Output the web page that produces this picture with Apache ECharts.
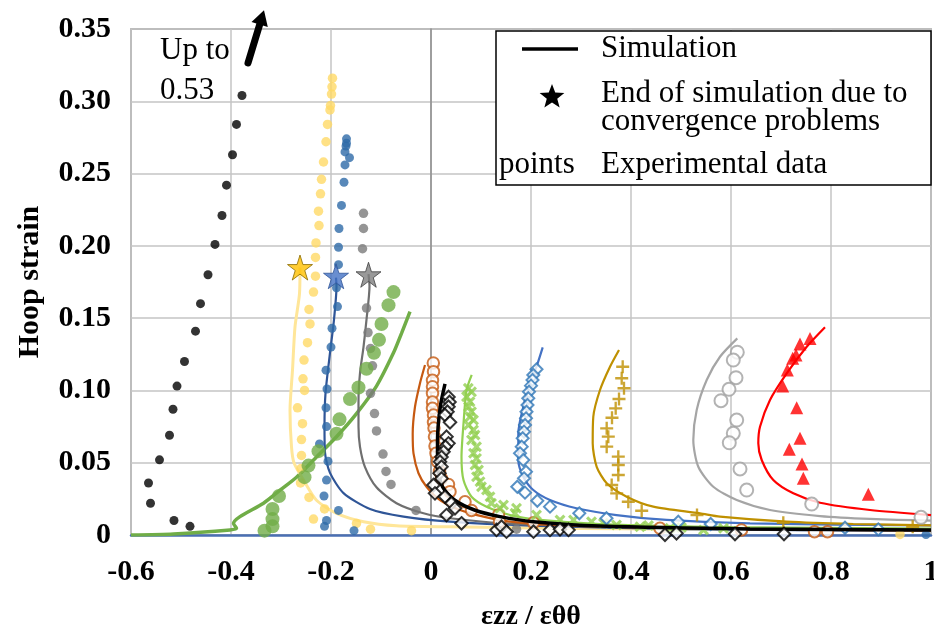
<!DOCTYPE html>
<html><head><meta charset="utf-8">
<script src="https://cdn.jsdelivr.net/npm/echarts@6/dist/echarts.min.js"></script>
<style>html,body{margin:0;padding:0;background:#fff}#c{width:934px;height:630px}</style>
</head><body><div id="c"></div>
<script>
// ---------- axes ----------
const xMin = -0.6, xMax = 1.0, xStep = 0.2;
const yMin = 0, yMax = 0.35, yStep = 0.05;
const xAxisTitle = 'εzz / εθθ';
const yAxisTitle = 'Hoop strain';

// ---------- black dots (no simulation, goes up to 0.53) ----------
const blackExp = [[-0.378,0.304],[-0.389,0.284],[-0.397,0.263],[-0.409,0.242],[-0.418,0.221],[-0.432,0.201],[-0.446,0.180],[-0.461,0.160],[-0.471,0.141],[-0.493,0.120],[-0.508,0.103],[-0.516,0.087],[-0.523,0.069],[-0.543,0.052],[-0.565,0.036],[-0.561,0.022],[-0.514,0.010],[-0.482,0.006]];
const arrowFrom = [-0.366, 0.3265];
const arrowTo = [-0.334, 0.363];

// ---------- pale yellow ----------
const yellowExp = [[-0.197,0.316],[-0.198,0.310],[-0.199,0.305],[-0.201,0.297],[-0.202,0.294],[-0.207,0.284],[-0.210,0.272],[-0.215,0.258],[-0.219,0.246],[-0.221,0.236],[-0.225,0.224],[-0.224,0.214],[-0.230,0.202],[-0.231,0.192],[-0.231,0.179],[-0.235,0.168],[-0.244,0.156],[-0.242,0.146],[-0.247,0.133],[-0.254,0.121],[-0.256,0.108],[-0.253,0.100],[-0.267,0.088],[-0.257,0.077],[-0.259,0.066],[-0.259,0.055],[-0.260,0.046],[-0.261,0.036],[-0.244,0.026],[-0.213,0.018],[-0.235,0.011],[-0.149,0.008],[-0.121,0.004],[-0.039,0.003],[0.938,0.0004]];
const yellowSim = [[-0.262,0.185],[-0.263,0.167],[-0.272,0.144],[-0.277,0.114],[-0.282,0.086],[-0.279,0.061],[-0.274,0.050],[-0.255,0.038],[-0.229,0.024],[-0.189,0.015],[-0.135,0.0092],[-0.069,0.0064],[0.038,0.0057],[0.3,0.0045],[0.6,0.004],[1.0,0.0035]];
const yellowStar = [[-0.262,0.185]];

// ---------- dark blue ----------
const darkBlueExp = [[-0.169,0.274],[-0.169,0.271],[-0.170,0.269],[-0.172,0.265],[-0.163,0.261],[-0.172,0.256],[-0.174,0.244],[-0.179,0.228],[-0.184,0.212],[-0.185,0.199],[-0.185,0.187],[-0.189,0.171],[-0.187,0.158],[-0.198,0.143],[-0.200,0.130],[-0.210,0.114],[-0.208,0.101],[-0.210,0.088],[-0.209,0.075],[-0.223,0.063],[-0.206,0.051],[-0.209,0.038],[-0.214,0.027],[-0.185,0.017],[-0.209,0.010],[-0.213,0.006],[-0.154,0.003],[0.99,0.0003]];
const darkBlueSim = [[-0.190,0.178],[-0.189,0.172],[-0.194,0.149],[-0.202,0.126],[-0.211,0.098],[-0.213,0.075],[-0.212,0.057],[-0.202,0.043],[-0.175,0.029],[-0.122,0.018],[-0.055,0.0127],[0.038,0.0092],[0.2,0.0065],[0.5,0.004],[1.0,0.003]];
const darkBlueStar = [[-0.190,0.179]];

// ---------- dark gray ----------
const grayExp = [[-0.135,0.2225],[-0.135,0.212],[-0.137,0.198],[-0.129,0.157],[-0.126,0.140],[-0.121,0.129],[-0.117,0.117],[-0.121,0.098],[-0.113,0.084],[-0.109,0.072],[-0.096,0.056],[-0.090,0.044],[-0.080,0.035],[-0.030,0.017],[0.171,0.004]];
const graySim = [[-0.125,0.1805],[-0.123,0.172],[-0.129,0.149],[-0.135,0.130],[-0.142,0.112],[-0.145,0.093],[-0.145,0.075],[-0.142,0.061],[-0.132,0.047],[-0.109,0.033],[-0.069,0.022],[-0.015,0.015],[0.038,0.0116],[0.15,0.008],[0.4,0.0055],[1.0,0.004]];
const grayStar = [[-0.125,0.180]];

// ---------- green ----------
const greenExp = [[-0.075,0.168],[-0.085,0.159],[-0.099,0.146],[-0.104,0.135],[-0.114,0.126],[-0.129,0.115],[-0.145,0.102],[-0.162,0.094],[-0.183,0.080],[-0.189,0.070],[-0.225,0.058],[-0.245,0.048],[-0.253,0.040],[-0.304,0.027],[-0.317,0.018],[-0.317,0.011],[-0.317,0.006],[-0.333,0.003]];
const greenSim = [[-0.6,0],[-0.515,0.0007],[-0.402,0.0035],[-0.389,0.0046],[-0.395,0.008],[-0.382,0.0127],[-0.335,0.022],[-0.302,0.031],[-0.269,0.040],[-0.229,0.054],[-0.189,0.068],[-0.149,0.084],[-0.109,0.103],[-0.075,0.126],[-0.059,0.1395],[-0.042,0.1545]];

// ---------- brown circles / orange line ----------
const brownExp = [[0.0046,0.119],[0.005,0.113],[0.003,0.107],[0.003,0.1026],[0.003,0.098],[0.003,0.092],[0.003,0.0876],[0.005,0.083],[0.005,0.078],[0.006,0.074],[0.007,0.068],[0.008,0.0616],[0.010,0.0565],[0.013,0.0507],[0.017,0.044],[0.021,0.039],[0.035,0.035],[0.038,0.030],[0.068,0.023],[0.081,0.017],[0.135,0.0138],[0.137,0.0092],[0.205,0.0085],[0.458,0.0046],[0.621,0.0035],[0.767,0.0023],[0.793,0.0023]];
const brownSim = [[-0.012,0.1176],[-0.022,0.105],[-0.032,0.0887],[-0.0366,0.070],[-0.035,0.0565],[-0.025,0.0427],[-0.009,0.0334],[0.018,0.0242],[0.058,0.0173],[0.105,0.0127],[0.158,0.0092],[0.238,0.0069],[0.5,0.0045],[1.0,0.003]];

// ---------- black diamonds / black line ----------
const blackDiamExp = [[0.035,0.0955],[0.037,0.092],[0.035,0.0887],[0.033,0.0853],[0.028,0.083],[0.038,0.078],[0.031,0.068],[0.035,0.0634],[0.029,0.061],[0.025,0.0576],[0.021,0.054],[0.018,0.0507],[0.021,0.0472],[0.017,0.0427],[0.021,0.039],[0.005,0.0346],[0.008,0.0288],[0.028,0.0265],[0.041,0.022],[0.048,0.0185],[0.031,0.0138],[0.061,0.0081],[0.131,0.0035],[0.141,0.0057],[0.151,0.0023],[0.205,0.0023],[0.238,0.0035],[0.258,0.004],[0.275,0.0035],[0.468,0.0002],[0.491,0.0012],[0.608,0.0007],[0.706,0.0007]];
const blackSim = [[0.028,0.1045],[0.0186,0.0887],[0.013,0.0657],[0.013,0.0472],[0.023,0.0334],[0.047,0.0242],[0.087,0.0173],[0.138,0.0127],[0.205,0.0092],[0.338,0.0062],[0.638,0.0042],[1.0,0.0035]];

// ---------- light green crosses ----------
const lightGreenExp = [[0.0746,0.1015],[0.081,0.099],[0.071,0.0957],[0.078,0.0922],[0.075,0.0887],[0.081,0.0853],[0.078,0.0818],[0.085,0.0795],[0.075,0.0761],[0.085,0.0726],[0.088,0.0692],[0.081,0.0657],[0.091,0.061],[0.085,0.0565],[0.091,0.053],[0.088,0.0484],[0.095,0.045],[0.091,0.0403],[0.098,0.0369],[0.101,0.0334],[0.111,0.0311],[0.118,0.0265],[0.121,0.022],[0.145,0.0208],[0.138,0.0185],[0.171,0.0185],[0.168,0.015],[0.211,0.0138],[0.258,0.0104],[0.285,0.0104],[0.321,0.0092],[0.345,0.0081],[0.371,0.0069],[0.418,0.0057],[0.435,0.0066],[0.478,0.0046],[0.501,0.0052],[0.545,0.0035],[0.585,0.0046]];
const lightGreenSim = [[0.0814,0.1107],[0.071,0.100],[0.065,0.077],[0.061,0.054],[0.065,0.038],[0.081,0.0265],[0.111,0.0196],[0.158,0.0138],[0.218,0.0104],[0.338,0.0076],[0.6,0.0055],[1.0,0.0045]];

// ---------- blue diamonds ----------
const blueExp = [[0.211,0.1146],[0.2046,0.1107],[0.203,0.1072],[0.200,0.1033],[0.196,0.0991],[0.1946,0.0946],[0.193,0.0899],[0.191,0.0853],[0.190,0.0807],[0.188,0.0761],[0.186,0.0715],[0.1834,0.0669],[0.1814,0.0611],[0.178,0.0565],[0.1846,0.0519],[0.190,0.0438],[0.186,0.0392],[0.1726,0.0334],[0.188,0.0293],[0.2126,0.0237],[0.238,0.0196],[0.2966,0.015],[0.351,0.0116],[0.4946,0.0092],[0.5594,0.0076],[0.828,0.005],[0.8946,0.0039]];
const blueSim = [[0.2234,0.1298],[0.211,0.1164],[0.198,0.1049],[0.1846,0.0887],[0.1746,0.0703],[0.1746,0.0519],[0.1846,0.0403],[0.2046,0.0311],[0.238,0.0242],[0.291,0.0185],[0.371,0.0138],[0.471,0.0104],[0.638,0.008],[1.0,0.0066]];

// ---------- gold plus ----------
const goldExp = [[0.3834,0.1164],[0.3814,0.1084],[0.386,0.1015],[0.376,0.0941],[0.3694,0.0876],[0.362,0.0811],[0.3514,0.0738],[0.3546,0.068],[0.3514,0.0611],[0.3746,0.0542],[0.3746,0.0484],[0.3746,0.0415],[0.3614,0.0346],[0.3714,0.0288],[0.3946,0.023],[0.4214,0.0168],[0.532,0.0138],[0.7046,0.0085],[0.9634,0.0057]];
const goldSim = [[0.376,0.128],[0.358,0.1164],[0.338,0.1003],[0.3246,0.0818],[0.3234,0.0634],[0.3314,0.0472],[0.3514,0.0358],[0.3914,0.0265],[0.4446,0.0196],[0.538,0.015],[0.578,0.0127],[0.7114,0.0092],[0.8446,0.0076],[1.0,0.0067]];

// ---------- light gray circles ----------
const lightGrayExp = [[0.6126,0.1264],[0.6046,0.121],[0.610,0.1088],[0.596,0.1008],[0.580,0.0929],[0.6114,0.0795],[0.6046,0.0703],[0.5966,0.0638],[0.618,0.0457],[0.6314,0.0311],[0.7614,0.0214],[0.980,0.0122]];
const lightGraySim = [[0.6126,0.136],[0.578,0.1233],[0.5514,0.1072],[0.5314,0.0865],[0.5246,0.0657],[0.5346,0.0472],[0.5646,0.0334],[0.6114,0.0242],[0.678,0.0173],[0.778,0.0131],[0.878,0.0111],[1.0,0.0099]];

// ---------- red triangles ----------
const redExp = [[0.758,0.136],[0.738,0.1321],[0.730,0.1245],[0.7234,0.1222],[0.7126,0.1141],[0.7034,0.1031],[0.7314,0.0881],[0.738,0.0669],[0.7166,0.0593],[0.742,0.0491],[0.7446,0.0392],[0.8746,0.0282]];
const redSim = [[0.788,0.1437],[0.7514,0.1302],[0.7114,0.1118],[0.678,0.0934],[0.658,0.0749],[0.6546,0.0634],[0.6614,0.0519],[0.6846,0.038],[0.7246,0.0288],[0.778,0.0223],[0.878,0.0173],[1.0,0.0138]];

// ---------- legend / annotation text ----------
const legendTexts = ['Simulation', 'End of simulation due to', 'convergence problems', 'points', 'Experimental data'];
const noteText = 'Up to\n0.53';

const SERIF = '"Liberation Serif","Times New Roman",serif';
const STAR = 'path://M50,0 L61.2,34.5 L97.6,34.5 L68.2,55.9 L79.4,90.5 L50,69.1 L20.6,90.5 L31.8,55.9 L2.4,34.5 L38.8,34.5 Z';
const XMARK = 'path://M2,0 L5,3 L8,0 L10,2 L7,5 L10,8 L8,10 L5,7 L2,10 L0,8 L3,5 L0,2 Z';
const PLUS = 'path://M4.1,0 H5.9 V4.1 H10 V5.9 H5.9 V10 H4.1 V5.9 H0 V4.1 H4.1 Z';

function sim(data, color, width, z) {
  return { type: 'line', data, showSymbol: false, symbol: 'none', smooth: 0.25,
    lineStyle: { color, width }, z: z || 2, silent: true, animation: false, clip: true };
}
function pts(data, symbol, size, style, z) {
  return { type: 'scatter', data, symbol, symbolSize: size, itemStyle: style, z: z || 3, animation: false, clip: false };
}
function starPoints(cx, cy, R, r) {
  const out = [];
  for (let i = 0; i < 10; i++) {
    const a = -Math.PI / 2 + i * Math.PI / 5;
    const rad = i % 2 === 0 ? R : r;
    out.push([cx + rad * Math.cos(a), cy + rad * Math.sin(a)]);
  }
  return out;
}

const chart = echarts.init(document.getElementById('c'), null, { renderer: 'canvas' });
const option = {
  animation: false,
  backgroundColor: '#fff',
  grid: { left: 131, right: 3, top: 29, bottom: 95, show: true, borderColor: '#8c8c8c', borderWidth: 1.5,
    containLabel: false, outerBoundsMode: 'none' },
  xAxis: {
    type: 'value', min: xMin, max: xMax, interval: xStep,
    name: xAxisTitle, nameLocation: 'middle', nameGap: 68,
    nameTextStyle: { fontFamily: SERIF, fontWeight: 'bold', fontSize: 28, color: '#000' },
    axisLine: { show: true, onZero: false, lineStyle: { color: '#4a6fb3', width: 2.5 } },
    axisTick: { show: false },
    splitLine: { show: true, lineStyle: { color: '#c4c4c4', width: 1.5 } },
    axisLabel: { margin: 22, fontFamily: SERIF, fontWeight: 'bold', fontSize: 30, color: '#000', hideOverlap: false,
      formatter: v => Math.abs(v) < 1e-9 ? '0' : (Math.abs(v - 1) < 1e-9 ? '1' : v.toFixed(1)) }
  },
  yAxis: {
    type: 'value', min: yMin, max: yMax, interval: yStep,
    name: yAxisTitle, nameLocation: 'middle', nameGap: 86, nameRotate: 90,
    nameTextStyle: { fontFamily: SERIF, fontWeight: 'bold', fontSize: 30, color: '#000' },
    axisLine: { show: true, lineStyle: { color: '#8c8c8c', width: 1.5 } },
    axisTick: { show: false },
    splitLine: { show: true, lineStyle: { color: '#c4c4c4', width: 1.5 } },
    axisLabel: { margin: 20, fontFamily: SERIF, fontWeight: 'bold', fontSize: 30, color: '#000', hideOverlap: false,
      padding: [6, 0, 0, 0],
      formatter: v => Math.abs(v) < 1e-9 ? '0' : v.toFixed(2) }
  },
  series: [
    sim(greenSim, '#70ad47', 3.5),
    sim(yellowSim, '#ffe699', 3),
    sim(darkBlueSim, '#2f5597', 2.2),
    sim(graySim, '#6f6f6f', 2.2),
    sim(brownSim, '#c65911', 2.2),
    sim(lightGreenSim, '#92d050', 2.2),
    sim(blueSim, '#4472c4', 2.2),
    sim(goldSim, '#bf9000', 2.2),
    sim(lightGraySim, '#a5a5a5', 2.2),
    sim(redSim, '#ff0000', 2.2),
    sim(blackSim, '#000000', 3.5, 4),
    pts(blackExp, 'circle', 9, { color: '#000' }),
    pts(yellowExp, 'circle', 9.5, { color: '#ffd966' }),
    pts(darkBlueExp, 'circle', 9, { color: '#2e6aa8' }),
    pts(grayExp, 'circle', 9.5, { color: '#7a7a7a' }),
    pts(greenExp, 'circle', 14, { color: '#70ad47' }),
    pts(brownExp, 'emptyCircle', 11.5, { color: '#c55a11', borderWidth: 2 }),
    pts(lightGreenExp, XMARK, 11, { color: '#92d050' }),
    pts(blueExp, 'emptyDiamond', 12, { color: '#2e75b6', borderWidth: 2 }),
    pts(goldExp, PLUS, 13, { color: '#bf9000' }),
    pts(lightGrayExp, 'emptyCircle', 13, { color: '#a0a0a0', borderWidth: 2 }),
    pts(redExp, 'triangle', 13, { color: '#ff0000' }),
    pts(blackDiamExp, 'emptyDiamond', 12.5, { color: '#000', borderWidth: 2.5 }, 5),
    pts(yellowStar, STAR, 25, { color: '#ffc000', borderColor: '#8a6a00', borderWidth: 1 }, 8),
    pts(darkBlueStar, STAR, 25, { color: '#4472c4', borderColor: '#2f5597', borderWidth: 1 }, 8),
    pts(grayStar, STAR, 25, { color: '#808080', borderColor: '#404040', borderWidth: 1 }, 8)
  ]
};
chart.setOption(option);

// annotation arrow placed from data coordinates
const p0 = chart.convertToPixel({ gridIndex: 0 }, arrowFrom);
const p1 = chart.convertToPixel({ gridIndex: 0 }, arrowTo);
const dx = p1[0] - p0[0], dy = p1[1] - p0[1], L = Math.hypot(dx, dy);
const ux = dx / L, uy = dy / L, px = -uy, py = ux;
const headLen = 15, headW = 8.5;
const bx = p1[0] - ux * headLen, by = p1[1] - uy * headLen;

chart.setOption({
  graphic: [
    { type: 'line', z: 50, shape: { x1: p0[0], y1: p0[1], x2: bx + ux * 2, y2: by + uy * 2 }, style: { stroke: '#000', lineWidth: 7, lineCap: 'round' } },
    { type: 'polygon', z: 50, shape: { points: [[p1[0], p1[1]], [bx + px * headW, by + py * headW], [bx - px * headW, by - py * headW]] }, style: { fill: '#000' } },
    { type: 'text', z: 50, x: 160, y: 31, style: { text: noteText, font: '31px ' + SERIF, fill: '#000', lineHeight: 40 } },
    // legend box
    { type: 'rect', z: 60, shape: { x: 496, y: 31, width: 435, height: 154 }, style: { fill: '#fff', stroke: '#000', lineWidth: 1.5 } },
    { type: 'line', z: 61, shape: { x1: 522, y1: 49, x2: 578, y2: 49 }, style: { stroke: '#000', lineWidth: 3.5 } },
    { type: 'polygon', z: 61, shape: { points: starPoints(552, 97, 13, 5.5) }, style: { fill: '#000' } },
    { type: 'text', z: 61, x: 601, y: 49, style: { text: legendTexts[0], font: '31px ' + SERIF, fill: '#000', verticalAlign: 'middle' } },
    { type: 'text', z: 61, x: 601, y: 94, style: { text: legendTexts[1], font: '31px ' + SERIF, fill: '#000', verticalAlign: 'middle' } },
    { type: 'text', z: 61, x: 601, y: 122, style: { text: legendTexts[2], font: '31px ' + SERIF, fill: '#000', verticalAlign: 'middle' } },
    { type: 'text', z: 61, x: 499, y: 165, style: { text: legendTexts[3], font: '31px ' + SERIF, fill: '#000', verticalAlign: 'middle' } },
    { type: 'text', z: 61, x: 601, y: 165, style: { text: legendTexts[4], font: '31px ' + SERIF, fill: '#000', verticalAlign: 'middle' } }
  ]
});
</script>
</body></html>
